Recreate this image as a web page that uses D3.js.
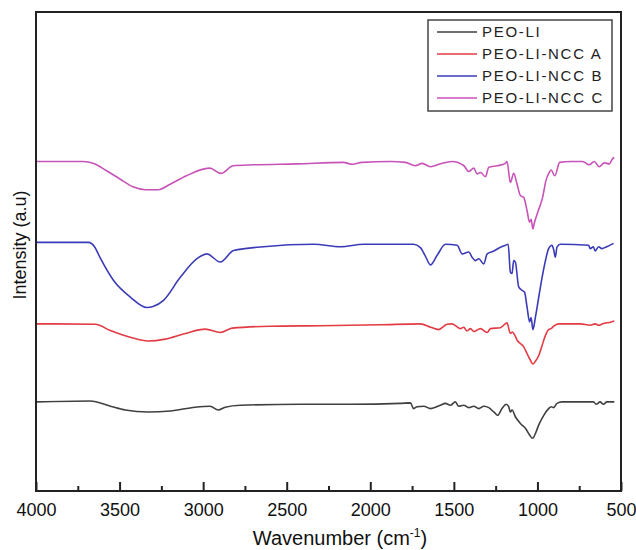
<!DOCTYPE html>
<html>
<head>
<meta charset="utf-8">
<script src="https://cdn.jsdelivr.net/npm/d3@7"></script>
<style>
  body { margin: 0; background: #fff; }
  text { font-family: "Liberation Sans", Arial, sans-serif; }
</style>
</head>
<body>
<script>
// FTIR spectra, [wavenumber cm-1, intensity a.u. (offset)]
const peoLi = [
  [4000,18.6],[3675,18.8],[3555,17.7],[3466,16.9],[3330,16.5],[3197,16.7],[3048,17.5],[2958,17.7],
  [2910,16.9],[2868,17.5],[2778,17.9],[2420,18.1],[2120,18.1],[1820,18.3],[1760,18.4],[1741,17.2],
  [1720,17.6],[1680,17.7],[1640,17.2],[1581,17.9],[1551,18.3],[1521,17.9],[1491,18.6],[1471,17.7],
  [1441,17.9],[1411,17.4],[1381,17.7],[1351,17.2],[1321,17.7],[1291,17.4],[1261,16.5],[1238,15.8],
  [1212,17.2],[1187,18.1],[1172,17.6],[1162,16.5],[1152,16.9],[1132,15.5],[1102,14.1],[1072,13.1],
  [1047,11.7],[1029,11.0],[1012,12.0],[992,13.8],[962,15.8],[933,17.2],[918,17.6],[903,17.4],
  [883,18.3],[853,18.6],[664,18.6],[648,18.1],[625,18.6],[605,18.1],[585,18.6],[540,18.6]
];
const nccA = [
  [4000,34.9],[3645,34.8],[3555,33.5],[3436,32.1],[3330,31.3],[3227,31.7],[3107,32.9],[2987,33.8],
  [2897,33.1],[2826,34.0],[2599,34.4],[2300,34.5],[1940,34.7],[1700,34.9],[1640,34.2],[1591,33.7],
  [1541,34.8],[1511,34.9],[1461,33.9],[1441,34.2],[1421,33.4],[1401,33.9],[1381,33.3],[1341,33.9],
  [1301,33.1],[1281,33.9],[1221,34.1],[1182,35.1],[1162,32.9],[1150,33.2],[1135,32.5],[1122,31.5],
  [1102,30.8],[1082,30.1],[1062,28.7],[1042,27.3],[1027,26.5],[1012,27.1],[992,28.3],[972,30.4],
  [952,32.5],[933,33.7],[918,33.9],[903,34.4],[873,34.9],[743,34.9],[684,34.6],[655,34.9],
  [634,34.6],[610,34.9],[559,35.3],[540,35.5]
];
const nccB = [
  [4000,51.9],[3685,51.9],[3650,51.0],[3615,48.6],[3537,44.0],[3436,40.5],[3336,38.3],[3300,38.5],
  [3237,39.8],[3137,44.6],[3037,48.5],[2977,49.5],[2897,47.8],[2818,50.2],[2638,51.0],[2339,51.5],
  [2179,51.0],[2040,51.5],[1880,51.5],[1741,51.5],[1700,50.8],[1670,49.0],[1640,47.2],[1600,49.2],
  [1550,51.5],[1480,51.3],[1451,49.5],[1411,49.9],[1391,48.8],[1371,48.1],[1351,48.5],[1321,47.4],
  [1301,49.5],[1261,50.1],[1221,50.9],[1191,51.3],[1175,51.5],[1162,45.7],[1152,45.4],[1142,48.1],
  [1132,47.8],[1112,42.6],[1092,41.9],[1077,41.5],[1062,38.4],[1047,35.3],[1038,36.2],[1027,33.7],
  [1012,36.3],[992,40.5],[972,44.6],[952,48.1],[933,50.6],[913,51.3],[903,50.4],[893,48.8],
  [883,50.9],[863,51.5],[694,51.3],[684,50.6],[665,51.0],[655,50.1],[634,51.0],[615,50.6],
  [585,51.0],[544,51.7]
];
const nccC = [
  [4000,68.8],[3720,68.8],[3650,68.3],[3580,66.9],[3500,65.2],[3420,63.5],[3345,62.9],[3268,62.9],
  [3200,64.0],[3100,65.8],[3000,67.2],[2960,67.4],[2893,66.3],[2820,67.9],[2700,68.1],[2438,68.3],
  [2161,68.6],[2107,68.2],[2050,68.6],[1880,68.8],[1790,68.6],[1730,67.9],[1690,68.4],[1640,67.7],
  [1580,68.3],[1511,68.8],[1440,67.9],[1411,66.7],[1381,67.4],[1361,66.2],[1341,66.5],[1311,65.6],
  [1291,67.6],[1240,67.9],[1192,68.4],[1182,68.8],[1162,64.4],[1142,66.3],[1122,64.1],[1102,61.7],
  [1082,61.3],[1062,58.5],[1047,56.1],[1038,56.7],[1027,54.7],[1018,56.0],[995,58.5],[969,61.3],
  [949,64.8],[929,66.5],[918,67.0],[896,65.8],[867,68.6],[800,68.8],[730,68.8],[690,68.1],
  [660,68.8],[630,67.7],[600,68.5],[570,68.3],[550,69.4],[540,69.6]
];

const seriesNames = ['PEO-LI', 'PEO-LI-NCC A', 'PEO-LI-NCC B', 'PEO-LI-NCC C'];
const seriesData = [peoLi, nccA, nccB, nccC];
const seriesColors = ['#404040', '#e23b44', '#3b3bb8', '#c853b8'];
const majorTicks = [4000, 3500, 3000, 2500, 2000, 1500, 1000, 500];
const minorTicks = [3750, 3250, 2750, 2250, 1750, 1250, 750];

const width = 636, height = 550;
const margin = { top: 12, right: 15, bottom: 59, left: 36 };

const svg = d3.select('body').append('svg')
  .attr('width', width)
  .attr('height', height);

const xScale = d3.scaleLinear()
  .domain([4000, 500])
  .range([margin.left, width - margin.right]);
const yScale = d3.scaleLinear()
  .domain([0, 100])
  .range([height - margin.bottom, margin.top]);

const line = d3.line()
  .x(d => xScale(d[0]))
  .y(d => yScale(d[1]))
  .curve(d3.curveMonotoneX);

svg.selectAll('path.spec').data(seriesData)
  .enter().append('path')
  .attr('class', 'spec')
  .attr('d', line)
  .attr('fill', 'none')
  .attr('stroke', (d, i) => seriesColors[i])
  .attr('stroke-width', 1.6)
  .attr('stroke-linejoin', 'round');

// frame
svg.append('rect')
  .attr('x', margin.left)
  .attr('y', margin.top)
  .attr('width', width - margin.left - margin.right)
  .attr('height', height - margin.top - margin.bottom)
  .attr('fill', 'none')
  .attr('stroke', '#222')
  .attr('stroke-width', 2);

// bottom axis, ticks pointing inward
const xAxis = d3.axisBottom(xScale)
  .tickValues(majorTicks)
  .tickSize(-9)
  .tickPadding(12)
  .tickFormat(d3.format('d'));
const gx = svg.append('g')
  .attr('transform', `translate(0, ${height - margin.bottom})`)
  .call(xAxis);
gx.select('.domain').remove();
gx.selectAll('line').attr('stroke', '#222').attr('stroke-width', 2);
gx.selectAll('text').attr('font-size', 18).attr('fill', '#111')
  .style('font-family', '"Liberation Sans", Arial, sans-serif');

const gm = svg.append('g')
  .attr('transform', `translate(0, ${height - margin.bottom})`)
  .call(d3.axisBottom(xScale).tickValues(minorTicks).tickSize(-5).tickFormat(''));
gm.select('.domain').remove();
gm.selectAll('line').attr('stroke', '#222').attr('stroke-width', 2);

// axis titles
const xt = svg.append('text')
  .attr('x', 340)
  .attr('y', 545)
  .attr('text-anchor', 'middle')
  .attr('font-size', 20)
  .attr('fill', '#111');
xt.append('tspan').text('Wavenumber (cm');
xt.append('tspan').attr('font-size', 12).attr('dy', -8).text('-1');
xt.append('tspan').attr('dy', 8).text(')');

svg.append('text')
  .attr('transform', 'translate(26, 245) rotate(-90)')
  .attr('text-anchor', 'middle')
  .attr('font-size', 18)
  .attr('fill', '#111')
  .text('Intensity (a.u)');

// legend
const legend = svg.append('g');
legend.append('rect')
  .attr('x', 428).attr('y', 20)
  .attr('width', 184).attr('height', 91)
  .attr('fill', '#fff')
  .attr('stroke', '#444')
  .attr('stroke-width', 1.5);
const items = legend.selectAll('g.item').data(seriesNames)
  .enter().append('g')
  .attr('class', 'item')
  .attr('transform', (d, i) => `translate(437, ${32 + i * 22})`);
items.append('line')
  .attr('x1', 0).attr('x2', 40)
  .attr('stroke', (d, i) => seriesColors[i])
  .attr('stroke-width', 1.4);
items.append('text')
  .attr('x', 45).attr('dy', '0.35em')
  .attr('font-size', 15)
  .attr('letter-spacing', 1.7)
  .attr('fill', '#222')
  .text(d => d);
</script>
</body>
</html>
